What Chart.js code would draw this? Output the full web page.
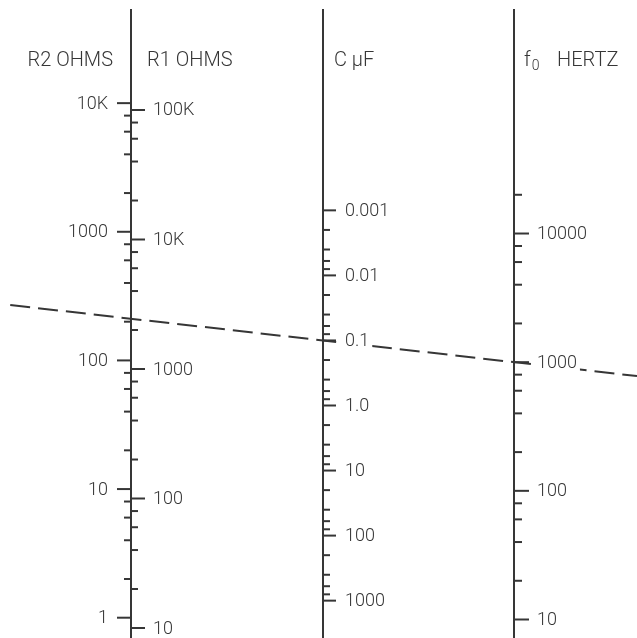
<!DOCTYPE html>
<html><head><meta charset="utf-8">
<script src="https://cdn.jsdelivr.net/npm/chart.js@4/dist/chart.umd.min.js"></script>
<style>html,body{margin:0;padding:0;background:#fff;}#wrap{width:637px;height:638px;}</style>
</head><body><div id="wrap"><canvas id="c" width="637" height="638"></canvas></div>
<script>
// ---- data ----
const r2Values = [1, 10, 100, 1000, 10000];
const r2Labels = ['1', '10', '100', '1000', '10K'];
const r1Values = [10, 100, 1000, 10000, 100000];
const r1Labels = ['10', '100', '1000', '10K', '100K'];
const cValues = [0.001, 0.01, 0.1, 1, 10, 100, 1000];
const cLabels = ['0.001', '0.01', '0.1', '1.0', '10', '100', '1000'];
const fValues = [10, 100, 1000, 10000];
const fLabels = ['10', '100', '1000', '10000'];
const fExtraMinor = [20000];
const minorSteps = [2, 4, 6, 8];
const titleR2 = 'R2 OHMS';
const titleR1 = 'R1 OHMS';
const titleC = 'C \u03BCF';
const titleF = 'f';
const titleFSub = '0';
const titleFUnit = 'HERTZ';
const keyLine = { c: 0.1, f: 1000 };   // dashed example line

const INK = '#363636';
const FONT = 'Roboto, "DejaVu Sans", sans-serif';

function minorsFor(majors, extra) {
  const out = [];
  for (let i = 0; i < majors.length - 1; i++) minorSteps.forEach(m => out.push(majors[i] * m));
  return out.concat(extra || []);
}

const nomo = {
  id: 'nomo',
  afterDraw(chart) {
    const ctx = chart.ctx;
    const s = chart.scales;
    const area = chart.chartArea;
    ctx.save();
    ctx.strokeStyle = INK; ctx.fillStyle = INK; ctx.lineWidth = 2; ctx.lineCap = 'butt';
    const seg = (x1, y1, x2, y2) => { ctx.beginPath(); ctx.moveTo(x1, y1); ctx.lineTo(x2, y2); ctx.stroke(); };
    const ax = [1, 2, 3].map(v => Math.round(s.x.getPixelForValue(v)));
    ax.forEach(px => seg(px, area.top, px, area.bottom));

    const labelQueue = [];
    function ticks(scale, px, majors, labels, minors, dir, majLen, minLen, labOff) {
      majors.forEach((v, i) => {
        const y = scale.getPixelForValue(v);
        seg(px, y, px + dir * majLen, y);
        labelQueue.push({ text: labels[i], x: px + dir * labOff, y: y + 1, align: dir < 0 ? 'right' : 'left' });
      });
      minors.forEach(v => {
        const y = scale.getPixelForValue(v);
        seg(px, y, px + dir * minLen, y);
      });
    }
    ticks(s.r2, ax[0], r2Values, r2Labels, minorsFor(r2Values), -1, 14, 7, 23);
    ticks(s.r1, ax[0], r1Values, r1Labels, minorsFor(r1Values), 1, 14, 7, 22);
    ticks(s.c, ax[1], cValues, cLabels, minorsFor(cValues), 1, 13, 7, 22);
    ticks(s.f, ax[2], fValues, fLabels, minorsFor(fValues, fExtraMinor), 1, 15, 8, 23);

    // dashed key line through C and f values
    const x1 = s.x.getPixelForValue(2), y1 = s.c.getPixelForValue(keyLine.c);
    const x2 = s.x.getPixelForValue(3), y2 = s.f.getPixelForValue(keyLine.f);
    const k = (y2 - y1) / (x2 - x1);
    const xs = s.x.getPixelForValue(0.37), xe = area.right;
    ctx.save();
    ctx.setLineDash([20, 8]);
    ctx.lineWidth = 2;
    seg(xs, y1 + k * (xs - x1), xe, y1 + k * (xe - x1));
    ctx.restore();

    // tick labels (knock out the dashed line behind them)
    ctx.font = '300 18px ' + FONT;
    ctx.textBaseline = 'middle';
    labelQueue.forEach(l => {
      const w = ctx.measureText(l.text).width;
      const left = l.align === 'right' ? l.x - w : l.x;
      ctx.fillStyle = '#ffffff';
      ctx.fillRect(left - 3, l.y - 9, w + 6, 17);
      ctx.fillStyle = INK;
      ctx.textAlign = l.align;
      ctx.fillText(l.text, l.x, l.y);
    });

    // titles
    ctx.font = '300 20px ' + FONT;
    ctx.textBaseline = 'alphabetic';
    ctx.textAlign = 'right';
    ctx.fillText(titleR2, ax[0] - 18, 66);
    ctx.textAlign = 'left';
    ctx.fillText(titleR1, ax[0] + 16, 66);
    ctx.fillText(titleC, ax[1] + 11, 66);
    ctx.fillText(titleF, ax[2] + 10, 66);
    const fw = ctx.measureText(titleF).width;
    ctx.font = '300 14px ' + FONT;
    ctx.fillText(titleFSub, ax[2] + 10 + fw + 1, 70);
    ctx.font = '300 20px ' + FONT;
    ctx.fillText(titleFUnit, ax[2] + 43, 66);
    ctx.restore();
  }
};

const hiddenLog = (lmin, lmax, rev) => ({
  type: 'logarithmic', display: false, bounds: 'data', reverse: !!rev,
  min: Math.pow(10, lmin), max: Math.pow(10, lmax)
});

new Chart(document.getElementById('c'), {
  type: 'scatter',
  data: { datasets: [] },
  options: {
    responsive: false, animation: false, devicePixelRatio: 1,
    layout: { padding: { top: 9, left: 0, right: 0, bottom: 0 } },
    plugins: { legend: { display: false }, tooltip: { enabled: false }, title: { display: false } },
    scales: {
      x: { type: 'linear', display: false, min: 0.3166, max: 3.6395, bounds: 'data' },
      r2: Object.assign({ axis: 'y' }, hiddenLog(-0.1578, 4.7318)),
      r1: Object.assign({ axis: 'y' }, hiddenLog(0.9228, 5.7799)),
      c: Object.assign({ axis: 'y' }, hiddenLog(-6.0953, 3.5742, true)),
      f: Object.assign({ axis: 'y' }, hiddenLog(0.8562, 5.745))
    }
  },
  plugins: [nomo]
});
</script></body></html>
